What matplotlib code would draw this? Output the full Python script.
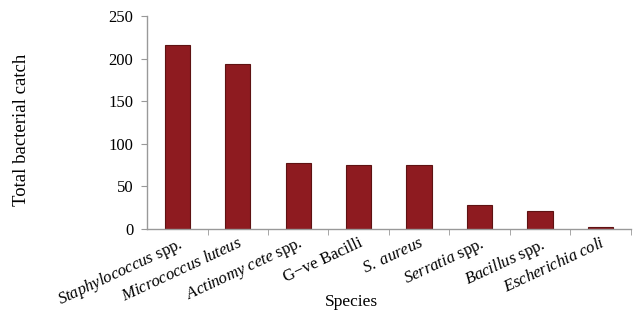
import matplotlib
matplotlib.use("Agg")
import matplotlib.pyplot as plt
import matplotlib.transforms as mtransforms
from matplotlib.ticker import FixedLocator, NullFormatter

plt.rcParams['font.family'] = ['Liberation Serif', 'DejaVu Serif']
plt.rcParams['mathtext.fontset'] = 'custom'
plt.rcParams['mathtext.rm'] = 'Liberation Serif'
plt.rcParams['mathtext.it'] = 'Liberation Serif:italic'

categories = [r"$\it{Staphylococcus}$ spp.", r"$\it{Micrococcus\ luteus}$",
              r"$\it{Actinomy\ cete}$ spp.", "G\u2212ve Bacilli", r"$\it{S.\ aureus}$",
              r"$\it{Serratia}$ spp.", r"$\it{Bacillus}$ spp.", r"$\it{Escherichia\ coli}$"]
values = [216, 194, 77, 75, 75, 28, 21, 2]
yticks = [0, 50, 100, 150, 200, 250]

fig = plt.figure(figsize=(6.37, 3.13), dpi=100)
ax = fig.add_axes([0.231, 0.268, 0.759, 0.681])
x = list(range(len(categories)))
ax.bar(x, values, width=0.42, color='#8e1b20', edgecolor='#5e1212', linewidth=0.8)
ax.set_xlim(-0.5, 7.5)
ax.set_ylim(0, 250)
ax.set_yticks(yticks)
ax.set_xticks(x)
ax.set_xticklabels(categories, rotation=25, ha='right', rotation_mode='anchor', fontsize=12)
offset = mtransforms.ScaledTranslation(10 / 100, 0, fig.dpi_scale_trans)
for lab in ax.get_xticklabels():
    lab.set_transform(lab.get_transform() + offset)
ax.tick_params(axis='x', which='major', length=0, pad=4)
ax.xaxis.set_minor_locator(FixedLocator([i + 0.5 for i in range(len(categories))]))
ax.xaxis.set_minor_formatter(NullFormatter())
ax.tick_params(axis='x', which='minor', length=4, color='#999999', direction='out')
ax.tick_params(axis='y', length=4, color='#999999', labelsize=12, pad=6)
for s in ['top', 'right']:
    ax.spines[s].set_visible(False)
for s in ['left', 'bottom']:
    ax.spines[s].set_color('#999999')
    ax.spines[s].set_linewidth(1.0)
fig.text(22 / 637, 1 - 130 / 313, 'Total bacterial catch', rotation=90,
         ha='center', va='center', fontsize=13.5)
fig.text(351 / 637, 1 - 302 / 313, 'Species', ha='center', va='center', fontsize=12.5)
fig.savefig('out.png', dpi=100)
